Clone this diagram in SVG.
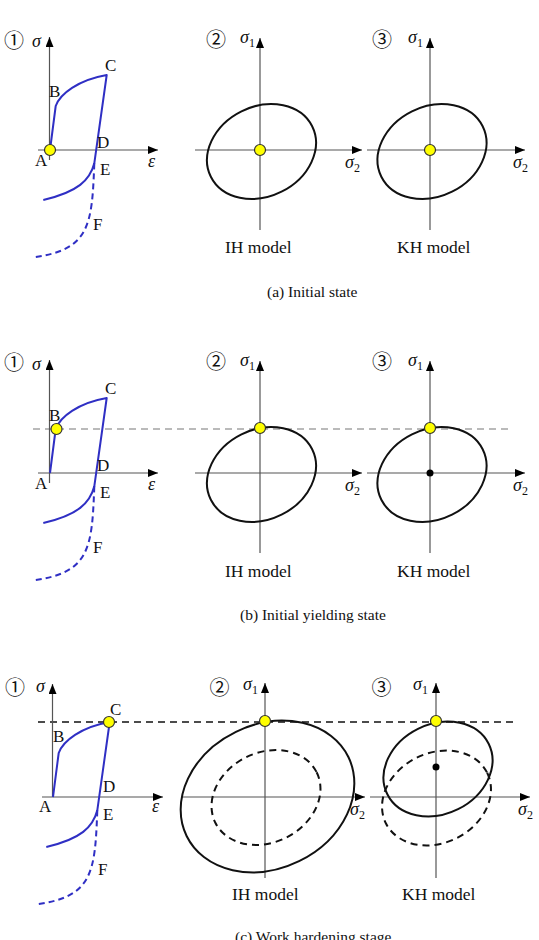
<svg xmlns="http://www.w3.org/2000/svg" width="539" height="940" viewBox="0 0 539 940">
<style>
.ax{stroke:#555;stroke-width:1.2;fill:none}
.blue{stroke:#2f2fc4;stroke-width:2;fill:none;stroke-linejoin:round}
.bdash{stroke-dasharray:6 4}
.ys{fill:#ffff00;stroke:#333;stroke-width:1.2}
.bd{fill:#000}
.ell{fill:none;stroke:#111;stroke-width:2}
.edash{stroke-dasharray:7 5}
.hg{stroke:#777;stroke-width:1.2;stroke-dasharray:7 5;fill:none}
.hk{stroke:#111;stroke-width:1.6;stroke-dasharray:7 5;fill:none}
.lab{font-family:"Liberation Serif",serif;font-size:17px;fill:#111}
.gk{font-family:"Liberation Serif",serif;font-style:italic;font-size:18px;fill:#111}
.sub{font-size:12px;font-style:normal}
.num{font-family:"Noto Sans CJK JP","DejaVu Sans",sans-serif;font-size:20px;fill:#111;text-anchor:middle;dominant-baseline:central}
.model{font-family:"Liberation Serif",serif;font-size:17.5px;fill:#111}
.cap{font-family:"Liberation Serif",serif;font-size:15.5px;fill:#111}
</style>
<defs>
<marker id="arr" viewBox="0 0 10 8" refX="10" refY="4" markerWidth="10" markerHeight="8" markerUnits="userSpaceOnUse" orient="auto">
<path d="M0,0 L10,4 L0,8 z" fill="#000"/>
</marker>
<g id="sscurve">
<path class="blue" d="M50,150 L55.7,106 C60,94 78,80 106.7,75 L94.3,163.3 C90,180 78,192 43.3,200"/>
<path class="blue bdash" d="M94.3,163.3 C92,225 90,250 33.3,257.3"/>
</g>
</defs>

<!-- connectors: horizontal reference lines -->
<g id="connectors">
<line class="hg" x1="33" y1="429" x2="513" y2="429"/>
<line class="hk" x1="38" y1="722" x2="517" y2="722"/>
</g>

<!-- (a) Initial state -->
<g id="a-ss">
<text class="num" x="14" y="39.5">①</text>
<line class="ax" x1="49.5" y1="160" x2="49.5" y2="37" marker-end="url(#arr)"/>
<line class="ax" x1="38" y1="150" x2="158" y2="150" marker-end="url(#arr)"/>
<use href="#sscurve"/>
<circle class="ys" cx="50" cy="150" r="5.5"/>
<text class="gk" x="32" y="47">σ</text>
<text class="lab" x="35" y="166">A</text>
<text class="lab" x="49" y="97">B</text>
<text class="lab" x="105" y="71">C</text>
<text class="lab" x="97" y="148">D</text>
<text class="lab" x="100" y="175">E</text>
<text class="lab" x="93" y="230">F</text>
<text class="gk" x="148" y="167">ε</text>
</g>
<g id="a-ih">
<text class="num" x="216" y="38">②</text>
<line class="ax" x1="260" y1="230" x2="260" y2="38" marker-end="url(#arr)"/>
<line class="ax" x1="195" y1="150" x2="362" y2="150" marker-end="url(#arr)"/>
<ellipse class="ell" cx="261.5" cy="151.5" rx="56.6" ry="44.9" transform="rotate(-26.5 261.5 151.5)"/>
<circle class="ys" cx="260" cy="150" r="5.5"/>
<text class="gk" x="240" y="43">σ<tspan class="sub" dy="4">1</tspan></text>
<text class="gk" x="345" y="168">σ<tspan class="sub" dy="4">2</tspan></text>
<text class="model" x="225" y="253">IH model</text>
</g>
<g id="a-kh">
<text class="num" x="382" y="38">③</text>
<line class="ax" x1="430" y1="230" x2="430" y2="38" marker-end="url(#arr)"/>
<line class="ax" x1="367" y1="150" x2="525" y2="150" marker-end="url(#arr)"/>
<ellipse class="ell" cx="432" cy="151.5" rx="56.6" ry="44.9" transform="rotate(-26.5 432 151.5)"/>
<circle class="ys" cx="430" cy="150" r="5.5"/>
<text class="gk" x="408" y="43">σ<tspan class="sub" dy="4">1</tspan></text>
<text class="gk" x="513" y="168">σ<tspan class="sub" dy="4">2</tspan></text>
<text class="model" x="397" y="253">KH model</text>
</g>
<text id="cap-a" class="cap" x="267" y="297">(a) Initial state</text>

<!-- (b) Initial yielding state -->
<g id="b-ss">
<text class="num" x="14" y="361.5">①</text>
<line class="ax" x1="49.5" y1="483" x2="49.5" y2="360" marker-end="url(#arr)"/>
<line class="ax" x1="38" y1="473" x2="158" y2="473" marker-end="url(#arr)"/>
<use href="#sscurve" transform="translate(0,323)"/>
<circle class="ys" cx="56.5" cy="429" r="5.5"/>
<text class="gk" x="32" y="370">σ</text>
<text class="lab" x="35" y="489">A</text>
<text class="lab" x="49" y="421">B</text>
<text class="lab" x="105" y="394">C</text>
<text class="lab" x="97" y="471">D</text>
<text class="lab" x="100" y="498">E</text>
<text class="lab" x="93" y="553">F</text>
<text class="gk" x="148" y="490">ε</text>
</g>
<g id="b-ih">
<text class="num" x="216" y="360">②</text>
<line class="ax" x1="260" y1="553" x2="260" y2="361" marker-end="url(#arr)"/>
<line class="ax" x1="195" y1="473" x2="362" y2="473" marker-end="url(#arr)"/>
<ellipse class="ell" cx="261.5" cy="474.5" rx="56.6" ry="44.9" transform="rotate(-26.5 261.5 474.5)"/>
<circle class="ys" cx="260" cy="428" r="5.5"/>
<text class="gk" x="240" y="366">σ<tspan class="sub" dy="4">1</tspan></text>
<text class="gk" x="345" y="491">σ<tspan class="sub" dy="4">2</tspan></text>
<text class="model" x="225" y="577">IH model</text>
</g>
<g id="b-kh">
<text class="num" x="382" y="360">③</text>
<line class="ax" x1="430" y1="553" x2="430" y2="361" marker-end="url(#arr)"/>
<line class="ax" x1="367" y1="473" x2="525" y2="473" marker-end="url(#arr)"/>
<ellipse class="ell" cx="432" cy="474.5" rx="56.6" ry="44.9" transform="rotate(-26.5 432 474.5)"/>
<circle class="bd" cx="430" cy="473" r="3.5"/>
<circle class="ys" cx="430" cy="428" r="5.5"/>
<text class="gk" x="408" y="366">σ<tspan class="sub" dy="4">1</tspan></text>
<text class="gk" x="513" y="491">σ<tspan class="sub" dy="4">2</tspan></text>
<text class="model" x="397" y="577">KH model</text>
</g>
<text id="cap-b" class="cap" x="240" y="620">(b) Initial yielding state</text>

<!-- (c) Work hardening stage -->
<g id="c-ss">
<text class="num" x="15" y="686.5">①</text>
<line class="ax" x1="52.5" y1="797" x2="52.5" y2="684" marker-end="url(#arr)"/>
<line class="ax" x1="42" y1="797" x2="163" y2="797" marker-end="url(#arr)"/>
<use href="#sscurve" transform="translate(3,647)"/>
<circle class="ys" cx="109" cy="722" r="5.5"/>
<text class="gk" x="36" y="692">σ</text>
<text class="lab" x="39" y="812">A</text>
<text class="lab" x="53" y="742">B</text>
<text class="lab" x="110" y="715">C</text>
<text class="lab" x="103" y="792">D</text>
<text class="lab" x="103" y="820">E</text>
<text class="lab" x="98" y="875">F</text>
<text class="gk" x="152" y="812">ε</text>
</g>
<g id="c-ih">
<text class="num" x="219.5" y="686">②</text>
<line class="ax" x1="265" y1="878" x2="265" y2="683" marker-end="url(#arr)"/>
<line class="ax" x1="182" y1="797" x2="365" y2="797" marker-end="url(#arr)"/>
<ellipse class="ell edash" cx="266" cy="797.5" rx="56.6" ry="44.9" transform="rotate(-26.5 266 797.5)"/>
<ellipse class="ell" cx="267.5" cy="796.5" rx="90" ry="72" transform="rotate(-26 267.5 796.5)"/>
<circle class="ys" cx="265" cy="721" r="5.5"/>
<text class="gk" x="243" y="690">σ<tspan class="sub" dy="4">1</tspan></text>
<text class="gk" x="350" y="815">σ<tspan class="sub" dy="4">2</tspan></text>
<text class="model" x="232" y="900">IH model</text>
</g>
<g id="c-kh">
<text class="num" x="381.5" y="686">③</text>
<line class="ax" x1="436" y1="878" x2="436" y2="683" marker-end="url(#arr)"/>
<line class="ax" x1="370" y1="797" x2="530" y2="797" marker-end="url(#arr)"/>
<ellipse class="ell edash" cx="436.5" cy="798" rx="56.6" ry="44.9" transform="rotate(-26.5 436.5 798)"/>
<ellipse class="ell" cx="438" cy="769" rx="56.6" ry="44.9" transform="rotate(-26.5 438 769)"/>
<circle class="bd" cx="436" cy="767" r="3.5"/>
<circle class="ys" cx="436" cy="721" r="5.5"/>
<text class="gk" x="413" y="690">σ<tspan class="sub" dy="4">1</tspan></text>
<text class="gk" x="518" y="815">σ<tspan class="sub" dy="4">2</tspan></text>
<text class="model" x="402" y="900">KH model</text>
</g>
<text id="cap-c" class="cap" x="235" y="942">(c) Work hardening stage</text>
</svg>
